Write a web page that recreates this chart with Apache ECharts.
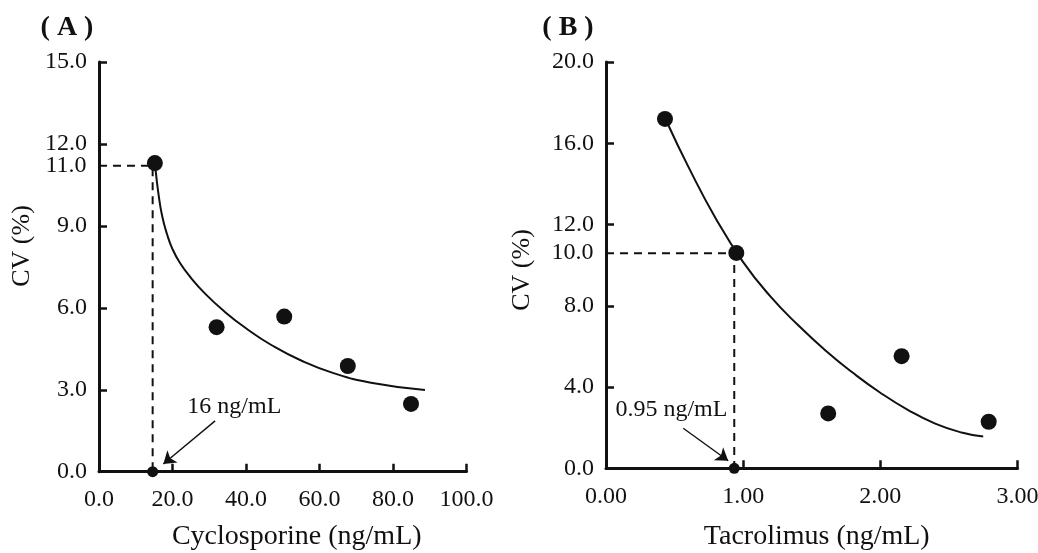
<!DOCTYPE html>
<html>
<head>
<meta charset="utf-8">
<script src="https://cdn.jsdelivr.net/npm/echarts@6/dist/echarts.min.js"></script>
<style>
html, body { margin: 0; padding: 0; background: #fff; }
#cv-chart { width: 1038px; height: 553px; }
</style>
</head>
<body>
<div id="cv-chart"></div>
<script>
// (A) cyclosporine
var cycloTicksX = [0, 20, 40, 60, 80, 100];
var cycloTicksY = [0, 3, 6, 9, 12, 15];
var cycloConc = [15.2, 32.0, 50.4, 67.7, 84.9];
var cycloCv = [11.3, 5.29, 5.68, 3.87, 2.48];
var cycloFitX = [15.4, 16.2, 17.2, 18.5, 20, 22, 25, 29, 34, 40, 47, 55, 64, 74, 88.7];
var cycloFitY = [11.05, 10.15, 9.35, 8.7, 8.15, 7.65, 7.1, 6.5, 5.88, 5.25, 4.63, 4.07, 3.6, 3.26, 2.99];
var cycloLimit = [14.6, 11.2];       // where the dashed lines meet
var cycloLimitText = '11.0';
var cycloNoteText = '16 ng/mL';

// (B) tacrolimus
var tacroTicksX = [0, 1, 2, 3];
var tacroTicksY = [0, 4, 8, 12, 16, 20];
var tacroConc = [0.43, 0.95, 1.62, 2.155, 2.79];
var tacroCv = [17.2, 10.6, 2.7, 5.52, 2.29];
var tacroFitX = [0.454, 0.6, 0.8, 1.0, 1.2, 1.4, 1.6, 1.8, 2.0, 2.2, 2.4, 2.6, 2.75];
var tacroFitY = [16.9, 14.85, 12.3, 10.15, 8.45, 7.05, 5.8, 4.7, 3.72, 2.88, 2.2, 1.75, 1.56];
var tacroLimit = [0.935, 10.59];
var tacroLimitText = '10.0';
var tacroNoteText = '0.95 ng/mL';

var FONT = '"Liberation Serif", "Times New Roman", serif';
var INK = '#111';

function pairs(xs, ys) {
  return xs.map(function (x, i) { return [x, ys[i]]; });
}

function valueAxis(gridIndex, ticks, digits, extra) {
  return Object.assign({
    type: 'value',
    gridIndex: gridIndex,
    min: ticks[0],
    max: ticks[ticks.length - 1],
    interval: ticks[1] - ticks[0],
    axisLine: { show: true, onZero: false, lineStyle: { color: INK, width: 3 } },
    axisTick: { show: true, inside: true, length: 8, lineStyle: { color: INK, width: 2.5 } },
    splitLine: { show: false },
    axisLabel: {
      color: INK, fontFamily: FONT, fontSize: 24, margin: 12,
      showMinLabel: true, showMaxLabel: true,
      formatter: function (v) { return v.toFixed(digits); }
    }
  }, extra || {});
}

function panelSeries(idx, conc, cv, fitX, fitY, limit, limitText, note, arrow) {
  return [
    {
      type: 'line', xAxisIndex: idx, yAxisIndex: idx,
      data: pairs(fitX, fitY),
      smooth: 0.5, showSymbol: false, symbol: 'none',
      lineStyle: { color: INK, width: 2 }, silent: true
    },
    {
      type: 'line', xAxisIndex: idx, yAxisIndex: idx,
      data: [[0, limit[1]], [limit[0], limit[1]], [limit[0], 0]],
      symbol: 'none',
      lineStyle: { color: INK, width: 2, type: [8, 6] }, silent: true
    },
    {
      type: 'scatter', xAxisIndex: idx, yAxisIndex: idx,
      data: pairs(conc, cv),
      symbolSize: 16, itemStyle: { color: INK, opacity: 1 }, silent: true, clip: false
    },
    {
      type: 'scatter', xAxisIndex: idx, yAxisIndex: idx,
      data: [[limit[0], 0]],
      symbolSize: 11, itemStyle: { color: INK, opacity: 1 }, silent: true, clip: false, z: 5
    },
    {
      // text notes + arrow
      type: 'scatter', xAxisIndex: idx, yAxisIndex: idx,
      symbolSize: 1, itemStyle: { color: 'rgba(0,0,0,0)', opacity: 1 }, silent: true, clip: false,
      label: { show: true, color: INK, opacity: 1, fontFamily: FONT, fontSize: 24 },
      data: [
        { value: [0, limit[1]], label: { position: 'left', distance: 12, formatter: limitText } },
        { value: note.at, label: { position: note.side, distance: 0, formatter: note.text } }
      ],
      markLine: {
        silent: true, animation: false,
        symbol: ['none', 'arrow'], symbolSize: 12,
        label: { show: false },
        lineStyle: { color: INK, width: 1.4, type: 'solid', opacity: 1 },
        data: [[{ coord: arrow[0] }, { coord: arrow[1] }]]
      }
    }
  ];
}

var chart = echarts.init(document.getElementById('cv-chart'));
chart.setOption({
  animation: false,
  backgroundColor: '#fff',
  grid: [
    { left: 99, top: 62, width: 367.5, height: 409.7, outerBoundsMode: 'none' },
    { left: 606, top: 62, width: 411.5, height: 406.3, outerBoundsMode: 'none' }
  ],
  xAxis: [
    valueAxis(0, cycloTicksX, 1, {
      name: 'Cyclosporine (ng/mL)', nameLocation: 'middle', nameGap: 51,
      nameTextStyle: { color: INK, fontFamily: FONT, fontSize: 28, padding: [0, 0, 0, 28] },
      axisLabel: {
        color: INK, fontFamily: FONT, fontSize: 24, margin: 16,
        showMinLabel: true, showMaxLabel: true,
        formatter: function (v) { return v.toFixed(1); }
      }
    }),
    valueAxis(1, tacroTicksX, 2, {
      name: 'Tacrolimus (ng/mL)', nameLocation: 'middle', nameGap: 54,
      nameTextStyle: { color: INK, fontFamily: FONT, fontSize: 28, padding: [0, 0, 0, 10] },
      axisLabel: {
        color: INK, fontFamily: FONT, fontSize: 24, margin: 16,
        showMinLabel: true, showMaxLabel: true,
        formatter: function (v) { return v.toFixed(2); }
      }
    })
  ],
  yAxis: [
    valueAxis(0, cycloTicksY, 1, {}),
    valueAxis(1, tacroTicksY, 1, {})
  ],
  graphic: [
    { type: 'text', x: 67, y: 28, style: { text: '( A )', font: 'bold 28px ' + FONT, fill: INK, align: 'center', verticalAlign: 'middle' } },
    { type: 'text', x: 568, y: 28, style: { text: '( B )', font: 'bold 28px ' + FONT, fill: INK, align: 'center', verticalAlign: 'middle' } },
    { type: 'text', x: 22, y: 246, rotation: Math.PI / 2, style: { text: 'CV (%)', font: '26px ' + FONT, fill: INK, align: 'center', verticalAlign: 'middle' } },
    { type: 'text', x: 522, y: 270, rotation: Math.PI / 2, style: { text: 'CV (%)', font: '26px ' + FONT, fill: INK, align: 'center', verticalAlign: 'middle' } }
  ],
  series: [].concat(
    panelSeries(0, cycloConc, cycloCv, cycloFitX, cycloFitY, cycloLimit, cycloLimitText,
      { at: [23.9, 2.38], side: 'right', text: cycloNoteText },
      [[31.6, 1.86], [17.5, 0.28]]),
    panelSeries(1, tacroConc, tacroCv, tacroFitX, tacroFitY, tacroLimit, tacroLimitText,
      { at: [0.889, 2.87], side: 'left', text: tacroNoteText },
      [[0.563, 1.97], [0.891, 0.37]])
  )
});
window.addEventListener('resize', function () { chart.resize(); });
</script>
</body>
</html>
